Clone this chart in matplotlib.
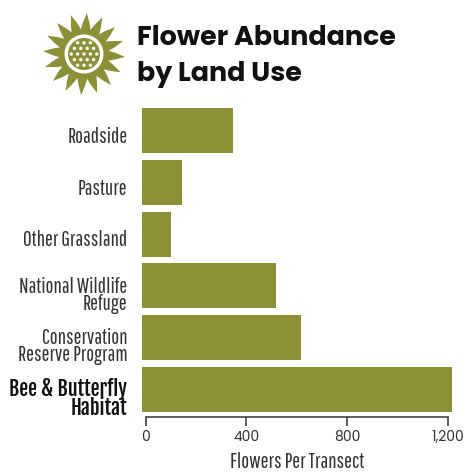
import numpy as np
import matplotlib
matplotlib.use('Agg')
import matplotlib.pyplot as plt
from matplotlib.patches import Circle, Polygon
from matplotlib.transforms import ScaledTranslation

categories = ['Roadside', 'Pasture', 'Other Grassland', 'National Wildlife\nRefuge',
              'Conservation\nReserve Program', 'Bee & Butterfly\nHabitat']
flowers = [347, 145, 100, 518, 617, 1216]
x_ticks = [0, 400, 800, 1200]
x_tick_labels = ['0', '400', '800', '1,200']

olive = '#8c9138'
W, H = 468, 477

narrow = ['Pathway Gothic One', 'Roboto Condensed', 'Liberation Sans Narrow', 'DejaVu Sans']
narrow_bold = ['Fjalla One', 'Roboto Condensed', 'Liberation Sans Narrow', 'DejaVu Sans']
wide = ['Poppins', 'Lato', 'DejaVu Sans']

fig = plt.figure(figsize=(W / 100, H / 100), dpi=100)
ax = fig.add_axes([145.5 / W, 1 - 418 / H, 302.5 / W, 314 / H])

# bars start a bit left of zero in the original
ax.barh(range(len(categories)), [v + 14 for v in flowers], left=-14, height=0.87,
        color=olive, clip_on=False)
ax.set_xlim(0, 1200)
ax.set_ylim(5.54, -0.54)

for s in ['top', 'right', 'left']:
    ax.spines[s].set_visible(False)
ax.spines['bottom'].set_color('#444444')
ax.spines['bottom'].set_linewidth(1.2)
ax.set_xticks(x_ticks)
ax.set_xticklabels(x_tick_labels, fontsize=10, color='#333333', family=wide)
ax.tick_params(axis='x', length=6.5, width=1.2, color='#444444', pad=2)
ax.set_xlabel('Flowers Per Transect', fontsize=15.2, color='#333333', family=narrow, labelpad=5)

ax.set_yticks(range(len(categories)))
ax.set_yticklabels(categories, fontsize=15.2, color='#333333', family=narrow, linespacing=0.8)
ax.tick_params(axis='y', length=0, pad=13)
last = ax.get_yticklabels()[-1]
last.set_family(narrow_bold)
last.set_fontsize(14.5)
last.set_color('#111111')

# labels sit a little below the bar centres in the original
for lab in ax.get_yticklabels():
    dy = 8 if '\n' in lab.get_text() else 3
    lab.set_transform(lab.get_transform() + ScaledTranslation(0, -dy / 100, fig.dpi_scale_trans))

fig.text(137 / W, 1 - 45 / H, 'Flower Abundance', fontsize=19.4, fontweight='bold',
         family=wide, color='#111111')
fig.text(137 / W, 1 - 81 / H, 'by Land Use', fontsize=19.4, fontweight='bold',
         family=wide, color='#111111')

# sunflower logo, in pixel units around its centre
logo = fig.add_axes([(84 - 45) / W, 1 - (55 + 45) / H, 90 / W, 90 / H])
logo.set_xlim(-45, 45)
logo.set_ylim(-45, 45)
logo.set_aspect('equal')
logo.axis('off')

n_petals = 16
step = 2 * np.pi / n_petals
pts = []
for i in range(n_petals):
    a = np.pi / 2 - 0.07 + step * i
    for off, r in [(-0.5, 25), (-0.27, 31.5), (0, 41), (0.27, 31.5)]:
        pts.append((r * np.cos(a + off * step), r * np.sin(a + off * step)))
logo.add_patch(Polygon(pts, closed=True, color=olive, lw=0))
logo.add_patch(Circle((0, 0), 19.5, color='white', lw=0))
logo.add_patch(Circle((0, 0), 16, color=olive, lw=0))
for row in range(-2, 3):
    y = row * 5.6
    for col in range(-3, 4):
        x = (col + (row % 2) * 0.5) * 6.4
        if x * x + y * y < 13.6 ** 2:
            logo.add_patch(Circle((x, y), 1.7, color='white', lw=0))

fig.savefig('out.png', dpi=100)
